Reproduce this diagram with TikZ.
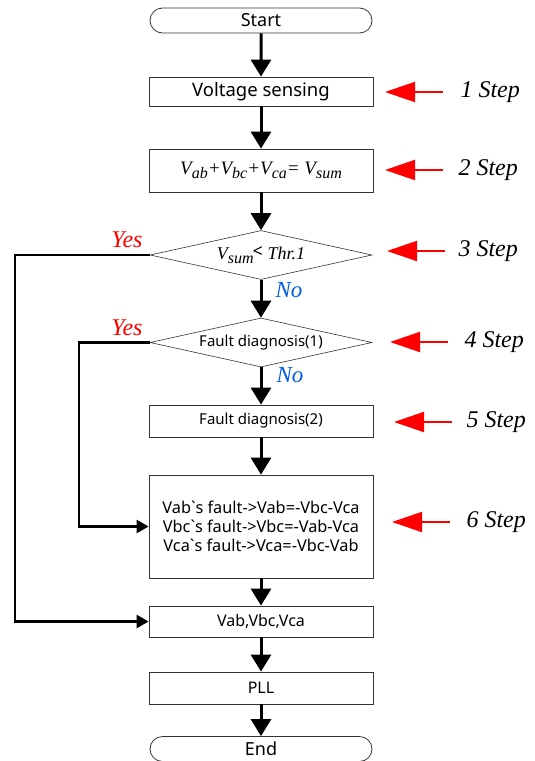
\documentclass[tikz,border=0pt]{standalone}
\usepackage{fontspec}
\setmainfont{Liberation Serif}
\newfontfamily\uifont{Noto Sans}
\usetikzlibrary{arrows.meta,shapes.geometric,shapes.misc}
\newcommand{\sbx}[1]{\raisebox{-0.45ex}{\fontsize{16}{16}\selectfont #1}}
\begin{document}
\begin{tikzpicture}[x=1pt,y=-1pt,
  box/.style={draw=black!80,line width=0.8pt,minimum width=224pt,inner sep=0pt,font=\uifont\fontsize{16}{18}\selectfont},
  term/.style={draw=black!80,line width=0.8pt,rounded rectangle,minimum width=222pt,minimum height=25pt,inner sep=0pt,font=\uifont\fontsize{18}{20}\selectfont},
  dec/.style={draw=black!80,line width=0.6pt,diamond,aspect=4.5,minimum width=222pt,minimum height=49pt,inner sep=0pt,font=\uifont\fontsize{15}{17}\selectfont},
  flow/.style={line width=3pt,-{Triangle[length=17pt,width=20pt]}},
  side/.style={line width=2.4pt,-{Triangle[length=12pt,width=13pt]}},
  redarr/.style={red,line width=2pt,-{Triangle[length=30pt,width=20pt]}},
  steplbl/.style={font=\itshape\fontsize{24}{26}\selectfont,anchor=west},
  yes/.style={red,font=\itshape\fontsize{24}{26}\selectfont},
  no/.style={blue!60!cyan!90!black,font=\itshape\fontsize{23}{25}\selectfont}]
\useasboundingbox (0,0) rectangle (535,761);
\node[term] (start) at (261,20.5) {Start};
\node[box,minimum height=29pt,font=\uifont\fontsize{18.5}{20}\selectfont] (b1) at (261,91.5) {Voltage sensing};
\node[box,minimum height=43pt,font=\rmfamily\itshape\fontsize{19}{21}\selectfont] (b2) at (261,170.5) {V\sbx{ab}+V\sbx{bc}+V\sbx{ca}= V\sbx{sum}};
\node[dec] (d1) at (261,255) {\rmfamily\itshape\fontsize{18}{20}\selectfont V\sbx{sum}\kern-1pt\raisebox{0.2ex}{\uifont\upshape<} Thr.1};
\node[dec] (d2) at (261,342.5) {Fault diagnosis(1)};
\node[box,minimum height=32pt,font=\uifont\fontsize{15}{17}\selectfont] (b5) at (261,421) {Fault diagnosis(2)};
\node[box,minimum height=103pt,align=center,font=\uifont\fontsize{16.3}{19}\selectfont] (b6) at (261,526.5) {Vab`s fault->Vab=-Vbc-Vca\\Vbc`s fault->Vbc=-Vab-Vca\\Vca`s fault->Vca=-Vbc-Vab};
\node[box,minimum height=31pt] (b7) at (261,621.5) {Vab,Vbc,Vca};
\node[box,minimum height=32pt] (b8) at (261,688) {PLL};
\node[term] (end) at (261,749) {End};
\draw[flow] (start) -- (b1);
\draw[flow] (b1) -- (b2);
\draw[flow] (b2) -- (d1);
\draw[flow] (d1) -- (d2);
\draw[flow] (d2) -- (b5);
\draw[flow] (b5) -- (b6);
\draw[flow] (b6) -- (b7);
\draw[flow] (b7) -- (b8);
\draw[flow] (b8) -- (end);
\coordinate (l1) at (15,255);
\coordinate (l2) at (79,342.5);
\draw[side] (d1.west) -- (l1) |- (b7.west);
\draw[side] (d2.west) -- (l2) |- (b6.west);
\node[yes] (y1) at (127,240) {Yes};
\node[yes] (y2) at (127,328) {Yes};
\node[no] (n1) at (289,290) {No};
\node[no] (n2) at (290,375) {No};
\foreach \i/\y/\xa/\xb/\xt in {1/92/443/385/457,2/170/443/385/455,3/251/445/387/455,4/342/448/390/461,5/422/452/394/463,6/522/450/392/463}{
  \coordinate (rs\i) at (\xa,\y);
  \coordinate (re\i) at (\xb,\y);
  \draw[redarr] (rs\i) -- (re\i);
  \node[steplbl] (s\i) at (\xt,\y) {\i\ Step};
}
\end{tikzpicture}
\end{document}
